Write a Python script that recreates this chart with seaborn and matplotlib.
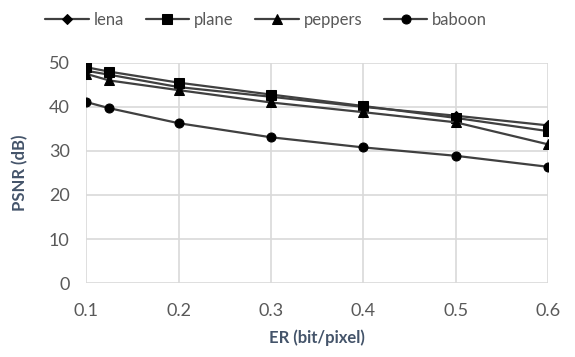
import matplotlib.pyplot as plt
import seaborn as sns
import pandas as pd

# Data
er = [0.1, 0.125, 0.2, 0.3, 0.4, 0.5, 0.6]
lena = [48.2, 47.3, 44.5, 42.3, 40.0, 38.0, 35.8]
plane = [49.0, 48.0, 45.5, 42.8, 40.2, 37.5, 34.5]
peppers = [47.5, 46.0, 43.8, 41.0, 38.8, 36.5, 31.5]
baboon = [41.1, 39.7, 36.3, 33.1, 30.8, 28.9, 26.4]
names = ['lena', 'plane', 'peppers', 'baboon']

dat = pd.DataFrame({'ER': er * 4,
                    'PSNR': lena + plane + peppers + baboon,
                    'image': sum([[n] * len(er) for n in names], [])})

sns.set_theme(style="white")
plt.rcParams['font.family'] = ['Lato', 'DejaVu Sans']

fig, ax = plt.subplots(figsize=(5.75, 3.57), dpi=100)
fig.subplots_adjust(left=0.15, right=0.953, bottom=0.207, top=0.824)

markers = {'lena': 'D', 'plane': 's', 'peppers': '^', 'baboon': 'o'}
msize = {'lena': 5, 'plane': 6.5, 'peppers': 6.5, 'baboon': 6.5}
for n in names:
    sns.lineplot(data=dat[dat['image'] == n], x='ER', y='PSNR', ax=ax,
                 color='#404040', lw=1.6, marker=markers[n], markersize=msize[n],
                 markerfacecolor='black', markeredgecolor='black', label=n)

ax.set_xlim(0.1, 0.6)
ax.set_ylim(0, 50)
ax.set_xticks([0.1, 0.2, 0.3, 0.4, 0.5, 0.6])
ax.set_yticks(range(0, 51, 10))
ax.grid(True, color='#D9D9D9', lw=1.2)
for s in ax.spines.values():
    s.set_visible(False)
ax.tick_params(labelsize=13, colors='#595959', length=0)
ax.tick_params(axis='x', pad=14)
ax.tick_params(axis='y', pad=12)

ax.set_xlabel('ER (bit/pixel)', fontsize=12, fontweight='bold', color='#44546A', labelpad=8)
ax.set_ylabel('PSNR (dB)', fontsize=12, fontweight='bold', color='#44546A', labelpad=15)

ax.legend(loc='upper center', bbox_to_anchor=(0.39, 1.3), ncol=4, frameon=False,
          fontsize=12, labelcolor='#595959', handlelength=2.6, columnspacing=1.3,
          handletextpad=0.3)

plt.savefig('out.png', dpi=100)
